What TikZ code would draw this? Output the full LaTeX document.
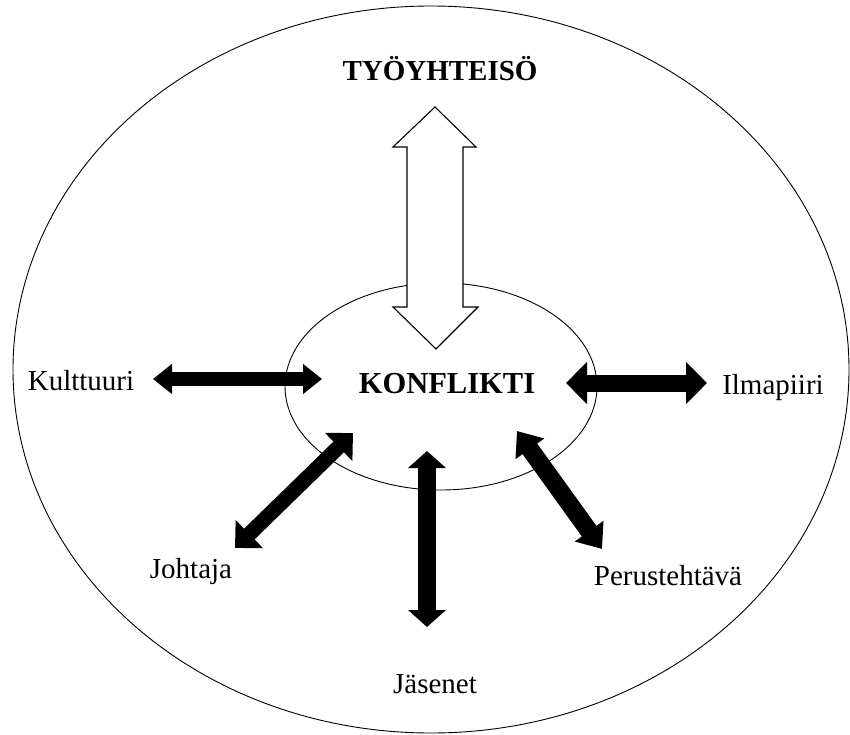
\documentclass[tikz,border=0pt]{standalone}
\usepackage{fontspec}
\setmainfont{Liberation Serif}
\usetikzlibrary{arrows.meta,shapes.geometric}
\tikzset{
  lbl/.style={font=\fontsize{29}{34}\selectfont, inner sep=0pt, anchor=base},
  ring/.style={draw=black, line width=0.9pt, ellipse, inner sep=0pt},
  blk/.style={draw=black, line width=#1},
  hollow/.style={draw=black, fill=white, line width=1.1pt, line join=miter}
}
\begin{document}
\begin{tikzpicture}[x=1pt,y=-1pt]
\useasboundingbox (0,0) rectangle (850,735);
% ellipses
\node[ring, minimum width=836pt, minimum height=727pt] (outer) at (431,369.5) {};
\node[ring, minimum width=312pt, minimum height=207pt] (inner) at (441,386.5) {};
% hollow double arrow
\coordinate (ht) at (435,107);
\coordinate (hb) at (436,349);
\draw[hollow] (ht) -- (393,147) -- (407,147) -- (407,307) -- (393,307) -- (hb)
  -- (478,307) -- (463,307) -- (463,147) -- (476,147) -- cycle;
% labels
\node[lbl, font=\fontsize{29}{34}\selectfont\bfseries] (tyo) at (440,81) {TYÖYHTEISÖ};
\node[lbl, font=\fontsize{30.5}{36}\selectfont\bfseries] (konf) at (447,393) {KONFLIKTI};
\node[lbl] (kult) at (81,390) {Kulttuuri};
\node[lbl] (ilma) at (773,394) {Ilmapiiri};
\node[lbl] (joht) at (191,578) {Johtaja};
\node[lbl] (jase) at (435,693) {Jäsenet};
\node[lbl] (peru) at (668,585) {Perustehtävä};
% arrow end points
\coordinate (k1) at (153,379);
\coordinate (k2) at (322,379);
\coordinate (i1) at (566,383);
\coordinate (i2) at (707,383);
\coordinate (j1) at (353,433);
\coordinate (j2) at (235,548);
\coordinate (s1) at (427,451);
\coordinate (s2) at (427,627);
\coordinate (p1) at (517,431);
\coordinate (p2) at (602,549);
% black double arrows
\draw[blk=14pt, {Triangle[length=19pt,width=29pt]}-{Triangle[length=19pt,width=29pt]}] (k1) -- (k2);
\draw[blk=17pt, {Triangle[length=21pt,width=41pt]}-{Triangle[length=21pt,width=41pt]}] (i1) -- (i2);
\draw[blk=15pt, {Triangle[length=20pt,width=38pt]}-{Triangle[length=20pt,width=38pt]}] (j1) -- (j2);
\draw[blk=18pt, {Triangle[length=17pt,width=37pt]}-{Triangle[length=17pt,width=37pt]}] (s1) -- (s2);
\draw[blk=18pt, {Triangle[length=22pt,width=34pt]}-{Triangle[length=22pt,width=34pt]}] (p1) -- (p2);
\end{tikzpicture}
\end{document}
